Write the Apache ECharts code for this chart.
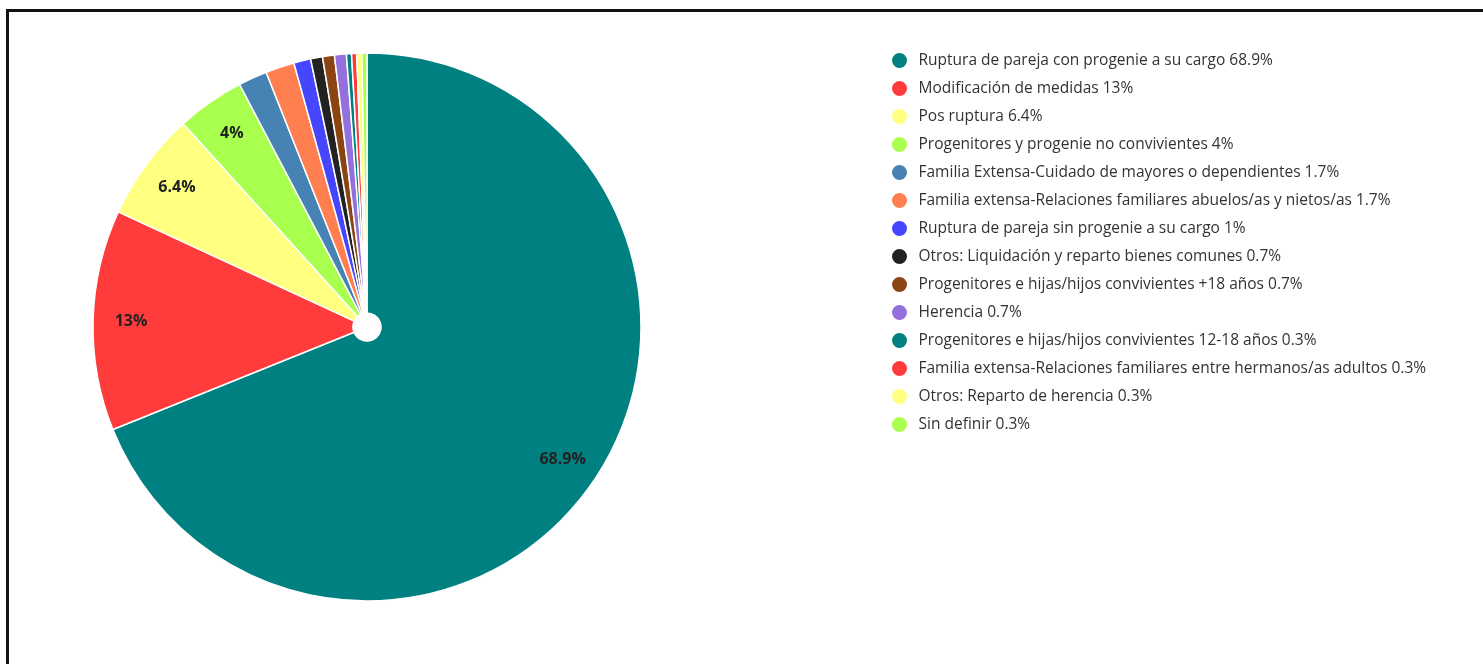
<!DOCTYPE html>
<html>
<head>
<meta charset="utf-8">
<script src="https://cdn.jsdelivr.net/npm/echarts@6/dist/echarts.min.js"></script>
<style>
  html, body { margin: 0; padding: 0; background: #fff; }
  #frame { position: absolute; left: 6px; top: 9px; width: 1500px; height: 700px; border: 3px solid #111; box-sizing: border-box; }
  #chart { position: absolute; left: 0; top: 0; width: 1483px; height: 664px; }
</style>
</head>
<body>
<div id="frame"></div>
<div id="chart"></div>
<script>
// Tipos de procedimiento (porcentaje de casos)
const categories = [
  'Ruptura de pareja con progenie a su cargo',
  'Modificación de medidas',
  'Pos ruptura',
  'Progenitores y progenie no convivientes',
  'Familia Extensa-Cuidado de mayores o dependientes',
  'Familia extensa-Relaciones familiares abuelos/as y nietos/as',
  'Ruptura de pareja sin progenie a su cargo',
  'Otros: Liquidación y reparto bienes comunes',
  'Progenitores e hijas/hijos convivientes +18 años',
  'Herencia',
  'Progenitores e hijas/hijos convivientes 12-18 años',
  'Familia extensa-Relaciones familiares entre hermanos/as adultos',
  'Otros: Reparto de herencia',
  'Sin definir'
];
const percentages = [68.9, 13, 6.4, 4, 1.7, 1.7, 1, 0.7, 0.7, 0.7, 0.3, 0.3, 0.3, 0.3];
const palette = ['#008080', '#ff3b3b', '#ffff80', '#a8ff4d', '#4682b4', '#ff7f50',
                 '#4646ff', '#222222', '#8b4513', '#9370db'];
// Slices at or above this share get a value label on the pie
const labelThreshold = 4;

const pieData = categories.map((name, i) => ({ name: name, value: percentages[i] }));

const chart = echarts.init(document.getElementById('chart'));
chart.setOption({
  backgroundColor: 'transparent',
  color: palette,
  animation: false,
  legend: {
    orient: 'vertical',
    left: 885,
    top: 46,
    icon: 'circle',
    itemWidth: 28,
    itemHeight: 17,
    itemGap: 9,
    data: categories,
    formatter: function (name) {
      const i = categories.indexOf(name);
      return name + ' ' + percentages[i] + '%';
    },
    textStyle: { fontFamily: 'Open Sans', fontSize: 15.5, lineHeight: 17, color: '#333' }
  },
  series: [
    {
      name: 'slices',
      type: 'pie',
      center: [367, 327],
      radius: [14, 274],
      startAngle: 90,
      clockwise: true,
      avoidLabelOverlap: false,
      itemStyle: { borderColor: '#fff', borderWidth: 1.5 },
      label: { show: false },
      labelLine: { show: false },
      emphasis: { disabled: true },
      data: pieData
    },
    {
      name: 'labels',
      type: 'pie',
      center: [367, 327],
      radius: [192, 274],
      startAngle: 90,
      clockwise: true,
      silent: true,
      avoidLabelOverlap: false,
      itemStyle: { color: 'rgba(0,0,0,0)', borderWidth: 0 },
      label: {
        show: true,
        position: 'inside',
        fontFamily: 'Open Sans',
        fontWeight: 'bold',
        fontSize: 16,
        color: '#222',
        formatter: function (p) {
          return p.value >= labelThreshold ? p.value + '%' : '';
        }
      },
      labelLine: { show: false },
      emphasis: { disabled: true },
      data: pieData.map(d => ({ name: d.name, value: d.value }))
    }
  ]
});
</script>
</body>
</html>
